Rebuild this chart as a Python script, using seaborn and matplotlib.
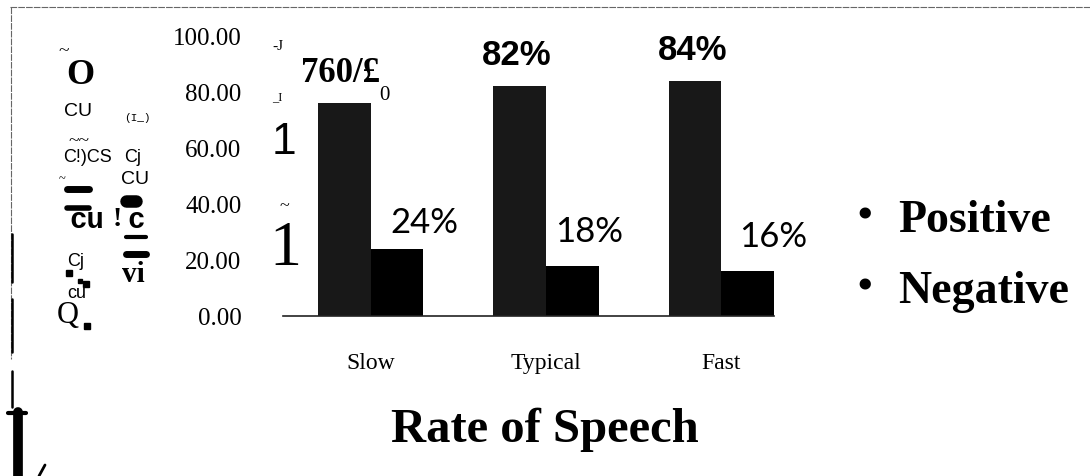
import matplotlib
matplotlib.use('Agg')
import matplotlib.pyplot as plt
import seaborn as sns
import pandas as pd
from matplotlib.lines import Line2D

sns.set_style('white')
plt.rcParams['font.family'] = ['Liberation Serif', 'DejaVu Sans']
plt.rcParams['text.color'] = 'black'
plt.rcParams['xtick.color'] = 'black'
plt.rcParams['ytick.color'] = 'black'

# data
rates = ['Slow', 'Typical', 'Fast']
sentiments = ['Positive', 'Negative']
positive = [76, 82, 84]
negative = [24, 18, 16]
pos_labels = ['760/£', '82%', '84%']
neg_labels = ['24%', '18%', '16%']
y_ticks = [0, 20, 40, 60, 80, 100]
y_tick_labels = ['0.00', '20.00', '40.00', '60.00', '80.00', '100.00']

df = pd.DataFrame({
    'rate': rates * 2,
    'sentiment': ['Positive'] * 3 + ['Negative'] * 3,
    'value': positive + negative,
})

W, H = 1090, 477
fig = plt.figure(figsize=(W / 100, H / 100), dpi=100)
ax = fig.add_axes([283 / W, (H - 317) / H, (774 - 283) / W, 280 / H])

sns.barplot(data=df, x='rate', y='value', hue='sentiment', order=rates,
            hue_order=sentiments, palette=['#181818', '#000000'],
            width=0.6, saturation=1, legend=False, linewidth=0, ax=ax)

ax.set_ylim(0, 100)
ax.set_xlim(-0.5, 2.3)
ax.set_yticks(y_ticks)
ax.set_yticklabels(y_tick_labels, fontsize=18)
ax.tick_params(axis='y', length=0, pad=30)
ax.tick_params(axis='x', length=0, pad=26, labelsize=17)
ax.set_xlabel('')
ax.set_ylabel('')
for s in ['left', 'top', 'right']:
    ax.spines[s].set_visible(False)
ax.spines['bottom'].set_color('#222222')
ax.spines['bottom'].set_linewidth(1.2)

pos_bars = ax.patches[:3]
neg_bars = ax.patches[3:6]

# labels over the positive bars
for i, (bar, lab) in enumerate(zip(pos_bars, pos_labels)):
    cx = bar.get_x() + bar.get_width() / 2
    top = bar.get_height()
    if i == 0:
        ax.annotate(lab, (cx, top), xytext=(-3, 16), textcoords='offset points',
                    ha='center', va='baseline', fontsize=25, fontweight='bold',
                    family='Liberation Serif')
        ax.annotate('0', (cx, top), xytext=(29, 3), textcoords='offset points',
                    ha='center', va='baseline', fontsize=15,
                    family='Liberation Serif')
    else:
        ax.annotate(lab, (cx, top), xytext=(-2, 16), textcoords='offset points',
                    ha='center', va='baseline', fontsize=25, fontweight='bold',
                    family='Liberation Sans')

neg_dx = [20, 12, 18]
neg_dy = [12, 18, 18]
for bar, lab, dx, dy in zip(neg_bars, neg_labels, neg_dx, neg_dy):
    cx = bar.get_x() + bar.get_width() / 2
    ax.annotate(lab, (cx, bar.get_height()), xytext=(dx, dy),
                textcoords='offset points', ha='center', va='baseline',
                fontsize=25, family='Lato')

# legend drawn as bullet list
for name, yb in zip(sentiments, [232, 303]):
    fig.text(865 / W, 1 - (yb - 14) / H, '•', ha='center', va='center',
             fontsize=30, fontweight='bold')
    fig.text(898 / W, 1 - yb / H, name, ha='left', va='baseline',
             fontsize=33, fontweight='bold')

fig.text(545 / W, 1 - 442 / H, 'Rate of Speech', ha='center', va='baseline',
         fontsize=35, fontweight='bold')

# scanned y-axis title fragments
frags = [
    ('~', 64, 52, 14, 'normal', 'Liberation Serif'),
    ('O', 80, 76, 26, 'bold', 'Liberation Serif'),
    ('CU', 78, 112, 14, 'normal', 'Liberation Sans Narrow'),
    ('(I_)', 137, 118, 8, 'normal', 'Liberation Mono'),
    ('~~', 79, 142, 14, 'normal', 'Liberation Serif'),
    ('C!)CS', 88, 158, 13, 'normal', 'Liberation Sans Narrow'),
    ('Cj', 133, 158, 13, 'normal', 'Liberation Sans Narrow'),
    ('CU', 135, 180, 14, 'normal', 'Liberation Sans Narrow'),
    ('~', 62, 179, 9, 'normal', 'Liberation Serif'),
    ('cu', 87, 220, 21, 'bold', 'Liberation Mono'),
    ('!', 117, 220, 20, 'bold', 'Liberation Serif'),
    ('c', 136, 220, 21, 'bold', 'Liberation Mono'),
    ('vi', 133, 274, 21, 'bold', 'Liberation Serif'),
    ('Cj', 76, 262, 13, 'normal', 'Liberation Sans Narrow'),
    ('cu', 77, 294, 13, 'normal', 'Liberation Sans Narrow'),
    ('Q', 68, 316, 22, 'normal', 'Liberation Serif'),
    ('-J', 278, 46, 11, 'normal', 'Liberation Serif'),
    ('_I', 277, 97, 9, 'normal', 'Liberation Serif'),
    ('1', 284, 142, 32, 'normal', 'Liberation Sans'),
    ('~', 284, 207, 13, 'normal', 'Liberation Serif'),
    ('1', 285, 250, 46, 'normal', 'Liberation Serif'),
]
for t, x, y, fs, fw, fam in frags:
    fig.text(x / W, 1 - y / H, t, ha='center', va='center', fontsize=fs,
             fontweight=fw, family=[fam, 'Liberation Sans'])

# black blobs / bars from the scan
blobs = [(67, 89, 190, 5), (67, 89, 209, 4), (126, 146, 238, 3),
         (126, 146, 255, 5), (126, 136, 202, 9)]
for x0, x1, y, lw in blobs:
    fig.add_artist(Line2D([x0 / W, x1 / W], [1 - y / H, 1 - y / H],
                          color='black', lw=lw))
for x, y, ms in [(69, 274, 5), (80, 282, 3), (86, 285, 4), (87, 327, 5)]:
    fig.add_artist(Line2D([x / W], [1 - y / H], marker='s', ms=ms,
                          color='black', lw=0))

# page frame remnants
def fline(xs, ys, **kw):
    fig.add_artist(Line2D([v / W for v in xs], [1 - v / H for v in ys], **kw))

fline([10, 1090], [8, 8], color='#666666', lw=0.8, ls=(0, (6, 1)))
fline([11, 11], [8, 360], color='#666666', lw=0.8, ls=(0, (6, 1)))
fline([12, 12], [235, 283], color='black', lw=1.8)
fline([12, 12], [300, 353], color='black', lw=1.8)
fline([12, 12], [372, 408], color='black', lw=1.8)
fline([18, 18], [413, 477], color='black', lw=7)
fline([8, 26], [414, 414], color='black', lw=3)
fline([39, 45], [477, 466], color='black', lw=2)

fig.savefig('out.png', dpi=100, facecolor='white')
